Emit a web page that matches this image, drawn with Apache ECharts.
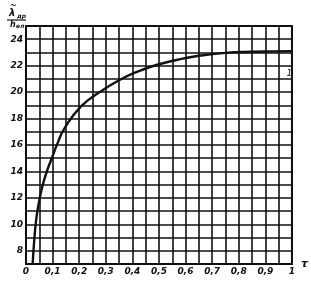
<!DOCTYPE html>
<html><head><meta charset="utf-8">
<script src="https://cdn.jsdelivr.net/npm/echarts@6/dist/echarts.min.js"></script>
<style>html,body{margin:0;padding:0;background:#fff}#c{width:311px;height:282px}</style>
</head><body><div id="c"></div>
<script>
var tauValues = [0.025, 0.031, 0.038, 0.048, 0.062, 0.08, 0.097, 0.12, 0.143, 0.206, 0.277, 0.35, 0.42, 0.49, 0.57, 0.65, 0.75, 0.85, 0.93, 1.0];
var lambdaValues = [7.0, 8.8, 10.3, 11.6, 12.9, 14.1, 15.0, 16.2, 17.2, 18.9, 20.0, 20.9, 21.55, 22.05, 22.45, 22.75, 22.97, 23.05, 23.08, 23.1];
var xTickLabels = ['0', '0,1', '0,2', '0,3', '0,4', '0,5', '0,6', '0,7', '0,8', '0,9', '1'];
var yTickLabels = ['8', '10', '12', '14', '16', '18', '20', '22', '24'];
var curveLabel = '1';

var data = tauValues.map(function (t, i) { return [t, lambdaValues[i]]; });
var chart = echarts.init(document.getElementById('c'));
var fontBase = {fontFamily: 'DejaVu Sans', fontStyle: 'italic', fontWeight: 'bold', color: '#111', fontSize: 9};
chart.setOption({
  animation: false,
  backgroundColor: '#fff',
  grid: {left: 26, top: 26, right: 17, bottom: 18, show: true, borderColor: '#111', borderWidth: 2},
  xAxis: {
    type: 'value', min: 0, max: 1, interval: 0.05,
    axisLine: {show: false}, axisTick: {show: false},
    splitLine: {lineStyle: {color: '#111', width: 1.6}},
    axisLabel: Object.assign({}, fontBase, {
      margin: 3,
      formatter: function (v) {
        var k = Math.round(v * 20);
        if (k % 2 !== 0) return '';
        return xTickLabels[k / 2];
      }
    }),
    name: 'τ', nameLocation: 'end', nameGap: 4,
    nameTextStyle: Object.assign({}, fontBase, {fontSize: 11, verticalAlign: 'middle'})
  },
  yAxis: {
    type: 'value', min: 7, max: 25, interval: 1,
    axisLine: {show: false}, axisTick: {show: false},
    splitLine: {lineStyle: {color: '#111', width: 1.6}},
    axisLabel: Object.assign({}, fontBase, {
      margin: 3,
      formatter: function (v) {
        var idx = yTickLabels.indexOf(String(v));
        return idx >= 0 ? yTickLabels[idx] : '';
      }
    })
  },
  series: [{
    type: 'line', data: data, smooth: 0.5, symbol: 'none',
    lineStyle: {color: '#111', width: 2.4},
    markPoint: {
      symbol: 'circle', symbolSize: 0,
      label: Object.assign({}, fontBase, {show: true, formatter: curveLabel, fontSize: 9, fontWeight: 'normal'}),
      data: [{coord: [0.99, 21.4]}]
    }
  }],
  graphic: [
    {type: 'text', left: 10, top: 2, style: {text: '~', font: 'bold 8px DejaVu Sans', fill: '#111'}},
    {type: 'text', left: 9, top: 8, style: {text: 'λ', font: 'italic bold 10px DejaVu Sans', fill: '#111'}},
    {type: 'text', left: 17, top: 13, style: {text: 'др', font: 'italic bold 6px DejaVu Sans', fill: '#111'}},
    {type: 'line', shape: {x1: 7, y1: 20, x2: 26, y2: 20}, style: {stroke: '#111', lineWidth: 1.2}},
    {type: 'text', left: 10, top: 21, style: {text: 'h', font: 'italic bold 8px DejaVu Sans', fill: '#111'}},
    {type: 'text', left: 16, top: 23, style: {text: 'ел', font: 'italic bold 6px DejaVu Sans', fill: '#111'}}
  ]
});
</script></body></html>
